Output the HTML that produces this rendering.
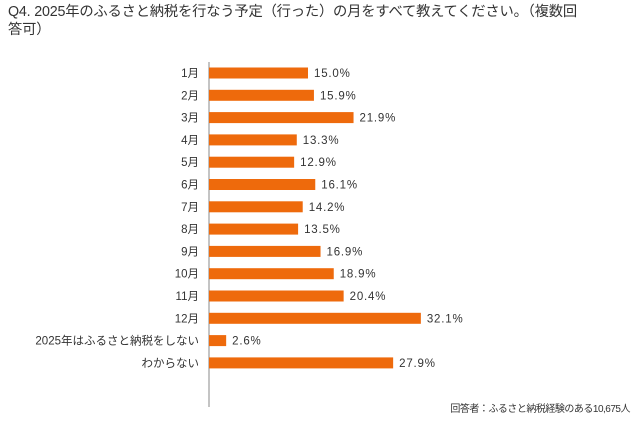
<!DOCTYPE html>
<html><head><meta charset="utf-8"><style>
body{margin:0;background:#fff;width:640px;height:426px;overflow:hidden;font-family:"Liberation Sans","Noto Sans CJK JP",sans-serif;}
#t{position:absolute;left:8px;top:3px;width:632px;font-size:14.3px;line-height:18px;color:#333;white-space:nowrap;letter-spacing:-0.2px}
#note{position:absolute;right:10px;top:400px;font-size:10px;color:#333;letter-spacing:-0.5px}
</style></head><body>
<div id="t">Q4. 2025年のふるさと納税を行なう予定（行った）の月をすべて教えてください。（複数回<br>答可）</div>
<svg id="c" width="640" height="426" style="position:absolute;left:0;top:0"></svg>
<div id="note">回答者：ふるさと納税経験のある10,675人</div>
<script>
const categories=["1月","2月","3月","4月","5月","6月","7月","8月","9月","10月","11月","12月","2025年はふるさと納税をしない","わからない"];
const values=[15.0,15.9,21.9,13.3,12.9,16.1,14.2,13.5,16.9,18.9,20.4,32.1,2.6,27.9];
const svg=document.getElementById('c');const NS="http://www.w3.org/2000/svg";
const x0=209,k=6.6,y0=73,step=22.3,bh=11;
const xs=v=>x0+v*k, ys=i=>y0+i*step;
function mk(t,a){const e=document.createElementNS(NS,t);for(const p in a)e.setAttribute(p,a[p]);svg.appendChild(e);return e;}
const ax=mk('line',{x1:x0,x2:x0,y1:62,y2:407,stroke:'#888','stroke-width':1});


categories.forEach((c,i)=>{
 const r=mk('rect',{x:x0,y:ys(i)-bh/2,width:xs(values[i])-x0,height:bh,fill:'#ee6a0c'});
 
 
 const l=mk('text',{x:199,y:ys(i)+4,'text-anchor':'end','font-size':11.5,fill:'#333'});l.textContent=c;
 
 
 const v=mk('text',{x:xs(values[i])+6,y:ys(i)+4,'font-size':11.5,fill:'#333','letter-spacing':'0.8'});v.textContent=values[i].toFixed(1)+'%';
 
 
});
</script>
</body></html>
